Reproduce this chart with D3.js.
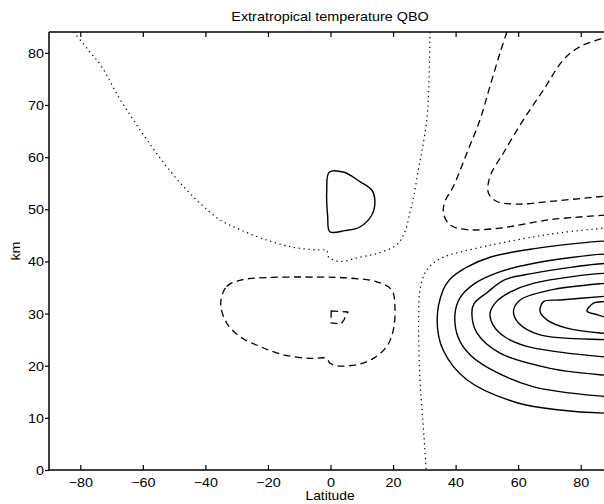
<!DOCTYPE html>
<html><head><meta charset="utf-8">
<script src="https://cdn.jsdelivr.net/npm/d3@7"></script>
<style>
html,body{margin:0;padding:0;background:#fff;}
svg{display:block;}
text{font-family:"Liberation Sans",Arial,Helvetica,sans-serif;fill:#000;}
</style></head>
<body>
<svg id="chart" width="604" height="504"></svg>
<script>
// ---- data (latitude in degrees, altitude in km) ----
const title = "Extratropical temperature QBO";
const xLabel = "Latitude";
const yLabel = "km";
const xTicks = [-80,-60,-40,-20,0,20,40,60,80];
const yTicks = [0,10,20,30,40,50,60,70,80];

// zero contour (dotted), western branch
const zeroWest = [[-82.1,84],[-77.5,80.6],[-73.2,77.4],[-67.9,71.7],[-63.1,67.2],[-58.3,63.0],
  [-52.4,58.2],[-46.0,53.7],[-40.5,50.5],[-35.4,48.0],[-29.0,46.1],[-20.4,44.1],[-11.9,42.7],
  [-4.4,42.2],[-1.2,42.1],[-0.7,40.9],[3.0,40.0],[9.4,40.8],[15.8,41.7],[21.2,43.2],[23.8,45.7],
  [25.4,49.4],[26.7,52.8],[28.1,57.6],[29.3,61.4],[30.8,67.2],[31.4,72.9],[31.8,84]];
// zero contour (dotted), eastern branch
const zeroEast = [[90,46.6],[87.5,46.4],[73.4,45.5],[64.8,44.7],[54.2,43.5],[48.8,42.8],[41.4,41.8],
  [36.0,40.8],[32.5,39.5],[30.2,37.8],[28.6,34.5],[28.2,29.8],[28.2,25.0],[28.6,17.3],[29.2,12.1],
  [29.9,6.3],[30.6,0]];

// positive contours (solid)
const posCap = [[-0.4,57.1],[4.3,57.1],[9.4,55.3],[13.2,53.7],[14.2,51.5],[13.2,48.9],[9.4,46.6],
  [4.6,45.9],[-0.2,45.7],[-0.9,48.6],[-1.2,53.7]];
const posRing1 = [[90,43.8],[87.4,43.9],[64.7,42.4],[51.0,40.8],[43.6,38.9],[38.2,36.6],[36.0,34.5],
  [34.1,28.8],[36.0,23.0],[43.6,17.3],[59.6,12.9],[73.4,11.5],[87.4,10.9],[90,10.9]];
const posRing2 = [[90,41.3],[87.4,41.4],[64.7,39.6],[53.2,37.8],[45.7,35.6],[41.4,33.0],[39.8,29.9],
  [40.9,25.3],[44.6,22.1],[51.0,19.4],[64.7,16.0],[87.4,14.1],[90,14.0]];
const posRing3 = [[90,39.5],[87.4,39.6],[64.7,37.7],[55.8,36.5],[50.0,34.0],[45.9,31.9],[45.2,30.0],
  [46.8,26.3],[54.2,22.4],[70.2,19.5],[87.4,18.2],[90,18.1]];
const posRing4 = [[90,37.6],[87.4,37.7],[64.8,35.8],[57.4,34.1],[52.9,32.2],[51.0,30.0],[52.0,27.8],
  [55.8,25.5],[62.2,23.8],[73.4,22.6],[87.4,21.7],[90,21.6]];
const posRing5 = [[90,35.9],[87.5,35.8],[70.2,34.5],[60.6,32.6],[58.5,30.4],[60.1,28.2],[67.0,25.9],
  [87.5,25.0],[90,24.9]];
const posRing6 = [[90,33.4],[87.5,33.3],[73.4,32.6],[68.1,32.3],[67.0,30.4],[69.2,28.8],[75.6,27.2],
  [87.5,26.2],[90,26.1]];
const posRing7 = [[90,32.4],[87.5,32.3],[84.1,32.0],[82.0,30.5],[85.2,29.8],[87.5,29.4],[90,29.3]];

// negative contours (dashed)
const negLow = [[-35.1,32.0],[-33.2,35.2],[-28.0,36.5],[-20.4,36.9],[-4.4,37.0],[6.2,36.8],[14.8,36.1],
  [19.6,34.5],[20.6,31.3],[20.1,26.9],[18.0,23.7],[13.7,21.4],[8.4,20.2],[2.0,20.0],[-0.2,20.5],
  [-1.2,21.4],[-6.6,21.4],[-15.1,22.1],[-22.6,23.7],[-29.0,25.6],[-33.2,28.2]];
const negSpot = [[0.2,30.5],[5.6,30.3],[4.3,28.8],[3.4,28.0],[0.2,28.2]];
const negOuter = [[56.4,84],[54.2,80.0],[51.0,73.6],[47.8,67.2],[43.6,60.8],[39.3,54.4],[36.6,51.5],
  [36.1,49.3],[38.2,47.0],[43.6,46.1],[54.2,46.4],[70.2,48.0],[87.5,48.9],[90,49.1]];
const negInner = [[90,83.4],[87.5,82.9],[79.8,81.2],[74.5,78.7],[68.1,72.9],[61.7,67.2],[55.3,60.8],
  [51.0,56.3],[50.5,53.1],[53.2,51.5],[59.6,51.0],[70.2,51.5],[87.5,52.5],[90,52.6]];

// ---- drawing ----
const svg = d3.select("#chart");
const W = 604, H = 504;
const x = d3.scaleLinear().domain([-90, 90]).range([49, 612]);
const y = d3.scaleLinear().domain([0, 84]).range([470, 32]);
const SX = 1.15; // horizontal stretch of the scanned lettering

svg.append("rect").attr("width", W).attr("height", H).attr("fill", "#fff");

svg.append("clipPath").attr("id", "plotclip").append("rect")
  .attr("x", x(-90)).attr("y", y(84)).attr("width", x(90) - x(-90)).attr("height", y(0) - y(84));

const plot = svg.append("g").attr("clip-path", "url(#plotclip)");
const openLine = d3.line().x(d => x(d[0])).y(d => y(d[1])).curve(d3.curveCatmullRom.alpha(0.5));
const closedLine = d3.line().x(d => x(d[0])).y(d => y(d[1])).curve(d3.curveCatmullRomClosed.alpha(0.5));
const spotLine = d3.line().x(d => x(d[0])).y(d => y(d[1])).curve(d3.curveLinearClosed);

const styles = {
  solid: {dash: null, w: 1.4},
  dashed: {dash: "7,4.5", w: 1.3},
  dotted: {dash: "1.3,3.6", w: 1.2}
};
function draw(data, gen, style) {
  const s = styles[style];
  const p = plot.append("path").datum(data).attr("d", gen)
    .attr("fill", "none").attr("stroke", "#000").attr("stroke-width", s.w)
    .attr("stroke-linejoin", "round");
  if (s.dash) p.attr("stroke-dasharray", s.dash);
}
draw(zeroWest, openLine, "dotted");
draw(zeroEast, openLine, "dotted");
draw(posCap, closedLine, "solid");
[posRing1, posRing2, posRing3, posRing4, posRing5, posRing6, posRing7].forEach(r => draw(r, openLine, "solid"));
draw(negLow, closedLine, "dashed");
draw(negSpot, spotLine, "dashed");
draw(negOuter, openLine, "dashed");
draw(negInner, openLine, "dashed");

// axes frame
const frame = svg.append("g").attr("stroke", "#000").attr("stroke-width", 1.5).attr("fill", "none");
frame.append("line").attr("x1", x(-90)).attr("x2", x(90)).attr("y1", y(0)).attr("y2", y(0));
frame.append("line").attr("x1", x(-90)).attr("x2", x(90)).attr("y1", y(84)).attr("y2", y(84));
frame.append("line").attr("x1", x(-90)).attr("x2", x(-90)).attr("y1", y(0)).attr("y2", y(84));
frame.append("line").attr("x1", x(90)).attr("x2", x(90)).attr("y1", y(0)).attr("y2", y(84));

const fs = "12.5px";
// bottom axis (ticks inside)
const gB = svg.append("g").attr("transform", `translate(0,${y(0)})`)
  .call(d3.axisBottom(x).tickValues(xTicks).tickSizeInner(-5).tickSizeOuter(0).tickPadding(0));
gB.select(".domain").remove();
gB.selectAll(".tick line").attr("stroke", "#000").attr("stroke-width", 1.2);
gB.selectAll(".tick text").attr("font-size", fs).attr("y", 0).attr("dy", 0)
  .attr("transform", `translate(0,17) scale(${SX},1)`);

// top axis (ticks inside, no labels)
const gT = svg.append("g").attr("transform", `translate(0,${y(84)})`)
  .call(d3.axisTop(x).tickValues(xTicks).tickSizeInner(-5).tickSizeOuter(0).tickFormat(""));
gT.select(".domain").remove();
gT.selectAll(".tick line").attr("stroke", "#000").attr("stroke-width", 1.2);

// left axis
const gL = svg.append("g").attr("transform", `translate(${x(-90)},0)`)
  .call(d3.axisLeft(y).tickValues(yTicks).tickSizeInner(4).tickSizeOuter(0).tickPadding(0));
gL.select(".domain").remove();
gL.selectAll(".tick line").attr("stroke", "#000").attr("stroke-width", 1.2);
gL.selectAll(".tick text").attr("font-size", fs).attr("x", 0).attr("dy", 0)
  .attr("transform", `translate(-5,4.5) scale(${SX},1)`);

// titles
svg.append("text").attr("transform", `translate(330,20.5) scale(${SX},1)`)
  .attr("text-anchor", "middle").attr("font-size", fs).text(title);
svg.append("text").attr("transform", `translate(330,500) scale(${SX},1)`)
  .attr("text-anchor", "middle").attr("font-size", "12px").text(xLabel);
svg.append("text").attr("transform", `translate(20,${(y(0) + y(84)) / 2}) rotate(-90) scale(${SX},1)`)
  .attr("text-anchor", "middle").attr("font-size", fs).text(yLabel);
</script>
</body></html>
